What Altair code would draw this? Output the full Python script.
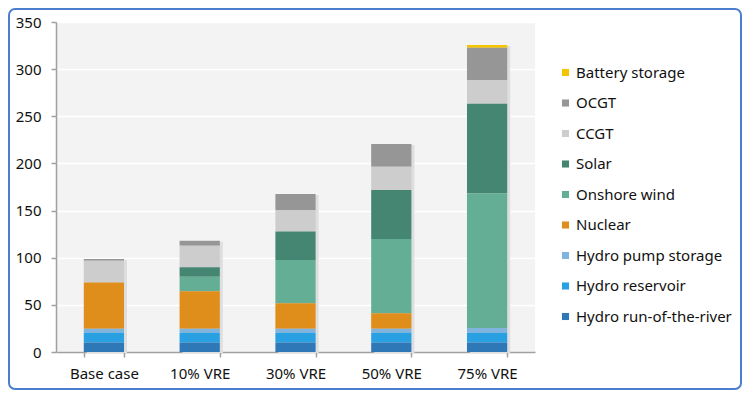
import altair as alt
import pandas as pd

scenarios = ["Base case", "10% VRE", "30% VRE", "50% VRE", "75% VRE"]
technologies = ["Battery storage", "OCGT", "CCGT", "Solar", "Onshore wind", "Nuclear",
                "Hydro pump storage", "Hydro reservoir", "Hydro run-of-the-river"]
colors = ["#f5c400", "#969696", "#cdcdcd", "#458672", "#63ae94", "#df8e1b",
          "#80b3de", "#29a0e1", "#2f78b8"]

# values per scenario, in technology order above
battery = [0, 0, 0, 0, 3]
ocgt = [2, 5.3, 17, 24.1, 34.3]
ccgt = [23, 22.9, 23, 24.7, 25]
solar = [0, 9.9, 30, 52, 95]
wind = [0, 15.5, 46, 78.8, 143]
nuclear = [49, 39.7, 27, 16.3, 0]
pump = [4.2, 4.2, 4.2, 4.2, 4.9]
reservoir = [10.5, 10.5, 10.5, 10.5, 10.5]
river = [10, 10, 10, 10, 10]

series = [battery, ocgt, ccgt, solar, wind, nuclear, pump, reservoir, river]
rows = []
for t_i, (tech, vals) in enumerate(zip(technologies, series)):
    for s, v in zip(scenarios, vals):
        rows.append({"scenario": s, "tech": tech, "value": v, "order": len(technologies) - t_i})
df = pd.DataFrame(rows)
totals = df.groupby("scenario", sort=False)["value"].sum().reset_index()

FONT = "Noto Sans"
W, H = 479, 330
PL, PT, PR, PB = 48, 14, 207, 38

x_enc = alt.X("scenario:N", sort=scenarios, title=None,
              scale=alt.Scale(paddingInner=0.58, paddingOuter=0.29),
              axis=alt.Axis(labelAngle=0, labelFontSize=15, labelFont=FONT, labelColor="#111",
                            tickBand="extent", tickSize=5, tickColor="#a0a0a0", tickWidth=1.5,
                            domainColor="#a0a0a0", domainWidth=1.5, labelPadding=9, grid=False))

shadow = alt.Chart(totals).mark_bar(color="#dedede", xOffset=3, yOffset=1).encode(
    x=x_enc,
    y=alt.Y("value:Q", scale=alt.Scale(domain=[0, 350]))
)

bars = alt.Chart(df).mark_bar().encode(
    x=x_enc,
    y=alt.Y("value:Q", stack="zero", title=None,
            scale=alt.Scale(domain=[0, 350]),
            axis=alt.Axis(values=[0, 50, 100, 150, 200, 250, 300, 350], labelFontSize=15,
                          labelFont=FONT, labelColor="#111", tickSize=5, tickColor="#a0a0a0",
                          tickWidth=1.5, domainColor="#a0a0a0", domainWidth=1.5,
                          labelPadding=10, gridColor="#ffffff", gridWidth=1.5)),
    color=alt.Color("tech:N", scale=alt.Scale(domain=technologies, range=colors),
                    legend=alt.Legend(title=None, orient="none", legendX=502, legendY=43,
                                      symbolType="square", symbolSize=50, symbolStrokeWidth=0,
                                      labelFontSize=15, labelFont=FONT, labelColor="#111",
                                      rowPadding=14.5, labelOffset=3)),
    order=alt.Order("order:Q", sort="ascending")
)

border = alt.Chart(pd.DataFrame({"a": [0]})).mark_rect(
    fill=None, stroke="#4a7fd0", strokeWidth=2, cornerRadius=6, clip=False
).encode(x=alt.value(-PL + 1), x2=alt.value(W + PR - 1),
         y=alt.value(-PT + 1), y2=alt.value(H + PB - 1))

chart = alt.layer(shadow, bars, border).properties(
    width=W, height=H,
    autosize=alt.AutoSizeParams(type="none"),
    padding={"left": PL, "top": PT, "right": PR, "bottom": PB},
    background="#ffffff"
).configure_view(fill="#f3f3f3", stroke=None)

chart.save("out.html", embed_options={"renderer": "svg", "actions": False})
